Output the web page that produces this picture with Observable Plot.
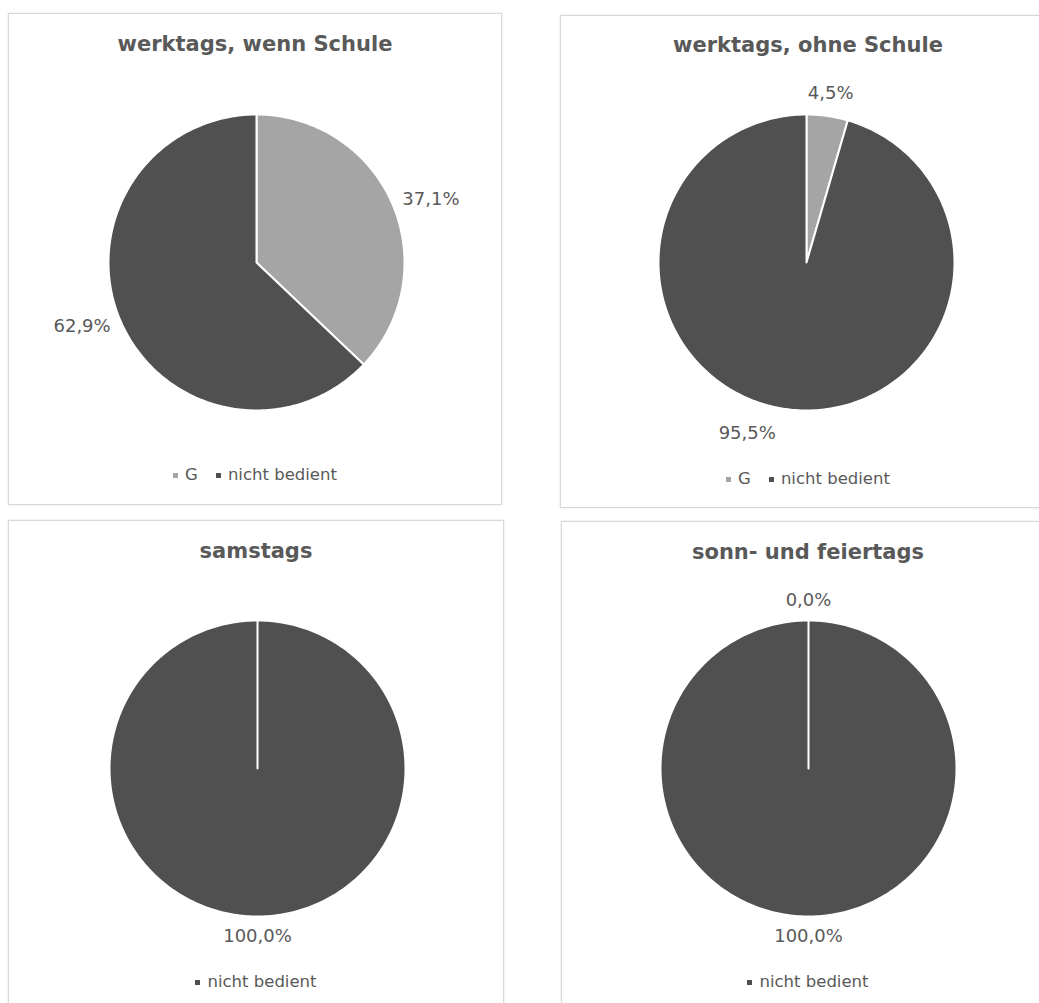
<!DOCTYPE html>
<html>
<head>
<meta charset="utf-8">
<script src="https://cdn.jsdelivr.net/npm/d3@7"></script>
<script src="https://cdn.jsdelivr.net/npm/@observablehq/plot@0.6"></script>
<style>
  body { margin: 0; background: #fff; font-family: "DejaVu Sans", "Liberation Sans", sans-serif; }
  #page { position: relative; width: 1039px; height: 1003px; overflow: hidden; background: #fff; }
  .panel { position: absolute; box-sizing: border-box; border: 1px solid #d9d9d9; box-shadow: 0 0 2px rgba(0,0,0,0.12); background: #fff; }
  .panel svg { position: absolute; overflow: visible; }
  .title { position: absolute; left: 0; right: 0; text-align: center; font-weight: bold; font-size: 21px; line-height: 24px; color: #595959; white-space: nowrap; }
  .legend { position: absolute; left: 0; right: 0; display: flex; justify-content: center; align-items: center; font-size: 16.5px; line-height: 20px; color: #595959; }
  .legend .item { display: flex; align-items: center; margin: 0 9px; }
  .legend .sw { width: 5px; height: 5px; margin-right: 7px; }
</style>
</head>
<body>
<div id="page"></div>
<script>
// Bedienung der Haltestelle nach Verkehrstag (Anteile in %)
const categories = ["G", "nicht bedient"];
const panelTitles = ["werktags, wenn Schule", "werktags, ohne Schule", "samstags", "sonn- und feiertags"];
const shareG = [37.1, 4.5, 0.0, 0.0];
const shareNichtBedient = [62.9, 95.5, 100.0, 100.0];
const legendEntries = [["G", "nicht bedient"], ["G", "nicht bedient"], ["nicht bedient"], ["nicht bedient"]];
const labelG = [true, true, false, true];
const labelNichtBedient = [true, true, true, true];

const colors = ["#a5a5a5", "#505050"];

// Panel frames and pie centres (px, relative to the panel)
const layout = [
  {left: 8,   top: 13,  width: 494, height: 492, cx: 247, cy: 248, titleTop: 18, legendTop: 451, nudge: {}},
  {left: 560, top: 15,  width: 496, height: 493, cx: 245, cy: 246, titleTop: 17, legendTop: 453, nudge: {"nicht bedient": -35}},
  {left: 8,   top: 520, width: 496, height: 500, cx: 248, cy: 247, titleTop: 18, legendTop: 451, nudge: {}},
  {left: 561, top: 521, width: 494, height: 500, cx: 246, cy: 246, titleTop: 18, legendTop: 450, nudge: {}}
];

const R = 148;          // pie radius in px
const W = 460, H = 420; // svg size in px
const fmt = v => v.toFixed(1).replace(".", ",") + "%";

const page = document.getElementById("page");

panelTitles.forEach((title, i) => {
  const L = layout[i];
  const values = [shareG[i], shareNichtBedient[i]];
  const shown = [labelG[i], labelNichtBedient[i]];
  const total = d3.sum(values);

  // slice outlines: centre -> arc (clockwise from 12 o'clock) -> centre
  const slices = [];
  const labels = [];
  let start = 0;
  values.forEach((v, k) => {
    const a0 = start, a1 = start + (v / total) * 2 * Math.PI;
    start = a1;
    const cat = categories[k];
    slices.push({cat, x: 0, y: 0});
    const steps = Math.max(1, Math.ceil((a1 - a0) / (Math.PI / 180)));
    for (let s = 0; s <= steps; ++s) {
      const a = a0 + (a1 - a0) * s / steps;
      slices.push({cat, x: Math.sin(a), y: Math.cos(a)});
    }
    if (shown[k]) {
      const text = fmt(v);
      const m = (a0 + a1) / 2;
      const sx = Math.sin(m), sy = Math.cos(m);
      const hw = text.length * 5.8, hh = 8, gap = 12;
      const d = (R + gap + Math.abs(sx) * hw + Math.abs(sy) * hh) / R;
      // side labels sit a little closer to the horizontal
      const flat = Math.abs(sx) > 0.5 ? 0.85 : 1;
      labels.push({text, x: sx * d + (L.nudge[cat] || 0) / R, y: sy * d * flat});
    }
  });

  const panel = document.createElement("div");
  panel.className = "panel";
  Object.assign(panel.style, {left: L.left + "px", top: L.top + "px", width: L.width + "px", height: L.height + "px"});

  const chart = Plot.plot({
    width: W,
    height: H,
    margin: 0,
    x: {domain: [-W / 2 / R, W / 2 / R], axis: null},
    y: {domain: [-H / 2 / R, H / 2 / R], axis: null},
    color: {domain: categories, range: colors},
    style: {background: "transparent", fontFamily: "DejaVu Sans, sans-serif"},
    marks: [
      Plot.line(slices, {x: "x", y: "y", z: "cat", fill: "cat", stroke: "white", strokeWidth: 2, strokeLinejoin: "round", curve: "linear-closed"}),
      Plot.text(labels, {x: "x", y: "y", text: "text", fontSize: 18, fill: "#595959"})
    ]
  });
  chart.style.left = (L.cx - W / 2) + "px";
  chart.style.top = (L.cy - H / 2) + "px";
  panel.appendChild(chart);

  const t = document.createElement("div");
  t.className = "title";
  t.style.top = L.titleTop + "px";
  t.textContent = title;
  panel.appendChild(t);

  const lg = document.createElement("div");
  lg.className = "legend";
  lg.style.top = L.legendTop + "px";
  legendEntries[i].forEach(name => {
    const item = document.createElement("div");
    item.className = "item";
    const sw = document.createElement("span");
    sw.className = "sw";
    sw.style.background = colors[categories.indexOf(name)];
    const tx = document.createElement("span");
    tx.textContent = name;
    item.appendChild(sw);
    item.appendChild(tx);
    lg.appendChild(item);
  });
  panel.appendChild(lg);

  page.appendChild(panel);
});
</script>
</body>
</html>
